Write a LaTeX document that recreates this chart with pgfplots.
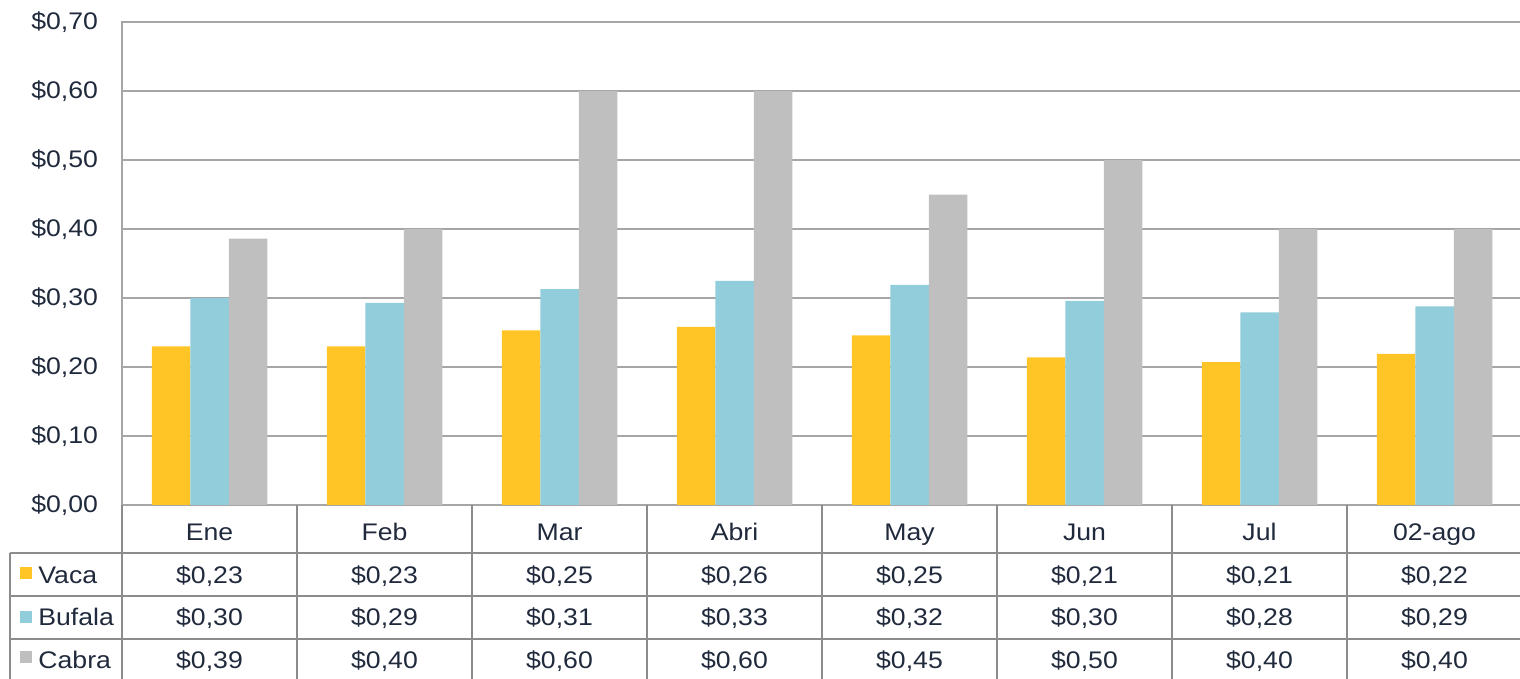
\documentclass[border=0pt]{standalone}
\usepackage{pgfplots}
\pgfplotsset{compat=1.18}
\usepackage{fontspec}
\setmainfont{Liberation Sans}[FakeStretch=1.11]
\definecolor{vaca}{RGB}{255,196,37}
\definecolor{bufala}{RGB}{146,205,220}
\definecolor{cabra}{RGB}{191,191,191}
\definecolor{txt}{RGB}{32,42,60}
\definecolor{gridc}{RGB}{166,166,166}
\definecolor{tbl}{RGB}{140,140,140}
\newcommand{\fs}{\fontsize{12}{14}\selectfont}
\tikzset{tn/.style={font=\fs, text=txt, inner sep=0pt, text height=8.6pt, text depth=0pt, anchor=center}}
\begin{document}
\begin{tikzpicture}
\path[use as bounding box, clip] (0,0) rectangle (760pt,339.5pt);
\begin{axis}[
  at={(61pt,87pt)}, anchor=south west,
  scale only axis, width=700pt, height=241.5pt,
  xmin=-0.5, xmax=7.5, ymin=0, ymax=0.7,
  clip=false,
  ybar, bar width=0.22,
  xtick=\empty,
  ytick={0,0.1,0.2,0.3,0.4,0.5,0.6,0.7},
  yticklabels={{\$0,00},{\$0,10},{\$0,20},{\$0,30},{\$0,40},{\$0,50},{\$0,60},{\$0,70}},
  yticklabel style={font=\fs, text=txt, xshift=-8.5pt},
  major tick length=0pt,
  ymajorgrids, grid style={gridc, line width=1pt},
  axis line style={gridc, line width=1pt},
]
\addplot[fill=vaca, draw=none, bar shift=-0.22] coordinates {(0,0.230) (1,0.230) (2,0.253) (3,0.258) (4,0.246) (5,0.214) (6,0.207) (7,0.219)};
\addplot[fill=bufala, draw=none, bar shift=0] coordinates {(0,0.300) (1,0.293) (2,0.313) (3,0.325) (4,0.319) (5,0.296) (6,0.279) (7,0.288)};
\addplot[fill=cabra, draw=none, bar shift=0.22] coordinates {(0,0.386) (1,0.400) (2,0.600) (3,0.600) (4,0.450) (5,0.500) (6,0.400) (7,0.400)};
% data table grid
\draw[tbl, line width=1pt] (axis cs:-0.5,0) -- (axis cs:-0.5,-0.27);
\pgfplotsinvokeforeach{0.5,1.5,2.5,3.5,4.5,5.5,6.5,7.5}{
  \draw[tbl, line width=1pt] (axis cs:#1,0) -- (axis cs:#1,-0.27);
}
\draw[tbl, line width=1pt] (axis cs:-1.14,-0.06957) -- (axis cs:7.7,-0.06957);
\draw[tbl, line width=1pt] (axis cs:-1.14,-0.13188) -- (axis cs:7.7,-0.13188);
\draw[tbl, line width=1pt] (axis cs:-1.14,-0.19420) -- (axis cs:7.7,-0.19420);
\draw[tbl, line width=1pt] (axis cs:-1.14,-0.06957) -- (axis cs:-1.14,-0.27);
% header
\node[tn] at (axis cs:0,-0.0384) {Ene};
\node[tn] at (axis cs:1,-0.0384) {Feb};
\node[tn] at (axis cs:2,-0.0384) {Mar};
\node[tn] at (axis cs:3,-0.0384) {Abri};
\node[tn] at (axis cs:4,-0.0384) {May};
\node[tn] at (axis cs:5,-0.0384) {Jun};
\node[tn] at (axis cs:6,-0.0384) {Jul};
\node[tn] at (axis cs:7,-0.0384) {02-ago};
% legend keys
\node[fill=vaca, minimum size=6pt, inner sep=0pt] at (axis cs:-1.049,-0.0986) {};
\node[fill=bufala, minimum size=6pt, inner sep=0pt] at (axis cs:-1.049,-0.1623) {};
\node[fill=cabra, minimum size=6pt, inner sep=0pt] at (axis cs:-1.049,-0.2203) {};
\node[tn, anchor=west] at (axis cs:-0.98,-0.1007) {Vaca};
\node[tn, anchor=west] at (axis cs:-0.98,-0.1623) {Bufala};
\node[tn, anchor=west] at (axis cs:-0.98,-0.2246) {Cabra};
% Vaca row
\node[tn] at (axis cs:0,-0.1007) {\$0,23};
\node[tn] at (axis cs:1,-0.1007) {\$0,23};
\node[tn] at (axis cs:2,-0.1007) {\$0,25};
\node[tn] at (axis cs:3,-0.1007) {\$0,26};
\node[tn] at (axis cs:4,-0.1007) {\$0,25};
\node[tn] at (axis cs:5,-0.1007) {\$0,21};
\node[tn] at (axis cs:6,-0.1007) {\$0,21};
\node[tn] at (axis cs:7,-0.1007) {\$0,22};
% Bufala row
\node[tn] at (axis cs:0,-0.1623) {\$0,30};
\node[tn] at (axis cs:1,-0.1623) {\$0,29};
\node[tn] at (axis cs:2,-0.1623) {\$0,31};
\node[tn] at (axis cs:3,-0.1623) {\$0,33};
\node[tn] at (axis cs:4,-0.1623) {\$0,32};
\node[tn] at (axis cs:5,-0.1623) {\$0,30};
\node[tn] at (axis cs:6,-0.1623) {\$0,28};
\node[tn] at (axis cs:7,-0.1623) {\$0,29};
% Cabra row
\node[tn] at (axis cs:0,-0.2246) {\$0,39};
\node[tn] at (axis cs:1,-0.2246) {\$0,40};
\node[tn] at (axis cs:2,-0.2246) {\$0,60};
\node[tn] at (axis cs:3,-0.2246) {\$0,60};
\node[tn] at (axis cs:4,-0.2246) {\$0,45};
\node[tn] at (axis cs:5,-0.2246) {\$0,50};
\node[tn] at (axis cs:6,-0.2246) {\$0,40};
\node[tn] at (axis cs:7,-0.2246) {\$0,40};
\end{axis}
\end{tikzpicture}
\end{document}
